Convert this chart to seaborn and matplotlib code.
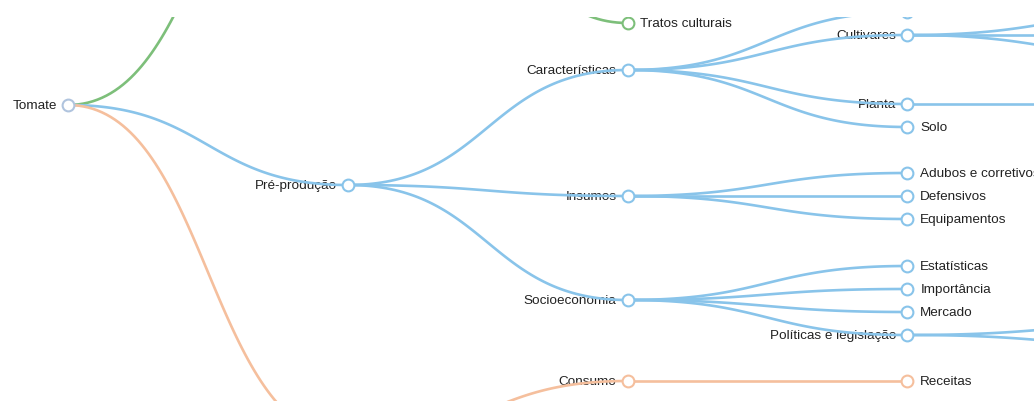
import numpy as np
import pandas as pd
import seaborn as sns
import matplotlib.pyplot as plt

# tree nodes: name, parent, depth, vertical position, branch
nomes = ["Tomate", "Produção", "Pré-produção", "Pós-produção",
         "Tratos culturais", "Características", "Insumos", "Socioeconomia", "Consumo",
         "Clima", "Cultivares", "Planta", "Solo",
         "Adubos e corretivos", "Defensivos", "Equipamentos",
         "Estatísticas", "Importância", "Mercado", "Políticas e legislação",
         "Receitas",
         "Cultivares 1", "Cultivares 2", "Cultivares 3", "Planta 1",
         "Políticas 1", "Políticas 2"]
pais = [None, "Tomate", "Tomate", "Tomate",
        "Produção", "Pré-produção", "Pré-produção", "Pré-produção", "Pós-produção",
        "Características", "Características", "Características", "Características",
        "Insumos", "Insumos", "Insumos",
        "Socioeconomia", "Socioeconomia", "Socioeconomia", "Socioeconomia",
        "Consumo",
        "Cultivares", "Cultivares", "Cultivares", "Planta",
        "Políticas e legislação", "Políticas e legislação"]
niveis = [0, 1, 1, 1,
          2, 2, 2, 2, 2,
          3, 3, 3, 3,
          3, 3, 3,
          3, 3, 3, 3,
          3,
          4, 4, 4, 4,
          4, 4]
linhas = [105, -223, 185, 439,
          23, 70, 196, 300, 381,
          12, 35, 104, 127,
          173, 196, 219,
          266, 289, 312, 335,
          381,
          12, 35, 58, 104,
          323.5, 346.5]
ramos = ["raiz", "verde", "azul", "laranja",
         "verde", "azul", "azul", "azul", "laranja",
         "azul", "azul", "azul", "azul",
         "azul", "azul", "azul",
         "azul", "azul", "azul", "azul",
         "laranja",
         "azul", "azul", "azul", "azul",
         "azul", "azul"]

cores = {"raiz": "#b0c4de", "verde": "#7dbf7a", "azul": "#89c4ea", "laranja": "#f5bf9d"}

nos = pd.DataFrame({"nome": nomes, "pai": pais, "nivel": niveis, "y": linhas, "ramo": ramos})
nos["x"] = 68 + nos["nivel"] * 279.75
pos = nos.set_index("nome")

# horizontal bezier links
t = np.linspace(0, 1, 80)
partes = []
for i, n in nos.dropna(subset=["pai"]).iterrows():
    sx, sy = pos.loc[n["pai"], ["x", "y"]]
    tx, ty = n["x"], n["y"]
    mx = (sx + tx) / 2
    a, b, c, d = (1 - t) ** 3, 3 * (1 - t) ** 2 * t, 3 * (1 - t) * t ** 2, t ** 3
    partes.append(pd.DataFrame({"x": a * sx + (b + c) * mx + d * tx,
                                "y": (a + b) * sy + (c + d) * ty,
                                "link": i, "ramo": n["ramo"]}))
links = pd.concat(partes)

sns.set_style("white")
plt.rcParams["font.family"] = ["Liberation Sans", "DejaVu Sans"]

fig = plt.figure(figsize=(10.34, 4.01), dpi=100)
ax = fig.add_axes([0, 0, 1, (401 - 17) / 401])

sns.lineplot(data=links, x="x", y="y", units="link", hue="ramo", palette=cores,
             estimator=None, sort=False, legend=False, linewidth=1.9, ax=ax, zorder=3)

for ramo, g in nos.groupby("ramo"):
    sns.scatterplot(data=g, x="x", y="y", s=72, color="white", edgecolor=cores[ramo],
                    linewidth=1.5, legend=False, ax=ax, zorder=4)

tem_filhos = set(nos["pai"].dropna())
for _, n in nos.iterrows():
    # only the labels inside the visible window
    if n["nivel"] == 4 or n["y"] < 17 or n["y"] > 401:
        continue
    if n["nome"] in tem_filhos:
        ax.text(n["x"] - 11, n["y"] + 1, n["nome"], ha="right", va="center",
                fontsize=9.7, color="#222222", zorder=2)
    else:
        ax.text(n["x"] + 13, n["y"] + 1, n["nome"], ha="left", va="center",
                fontsize=9.7, color="#222222", zorder=2)

ax.set_xlim(0, 1034)
ax.set_ylim(401, 17)
ax.axis("off")

fig.savefig("out.png", dpi=100)
